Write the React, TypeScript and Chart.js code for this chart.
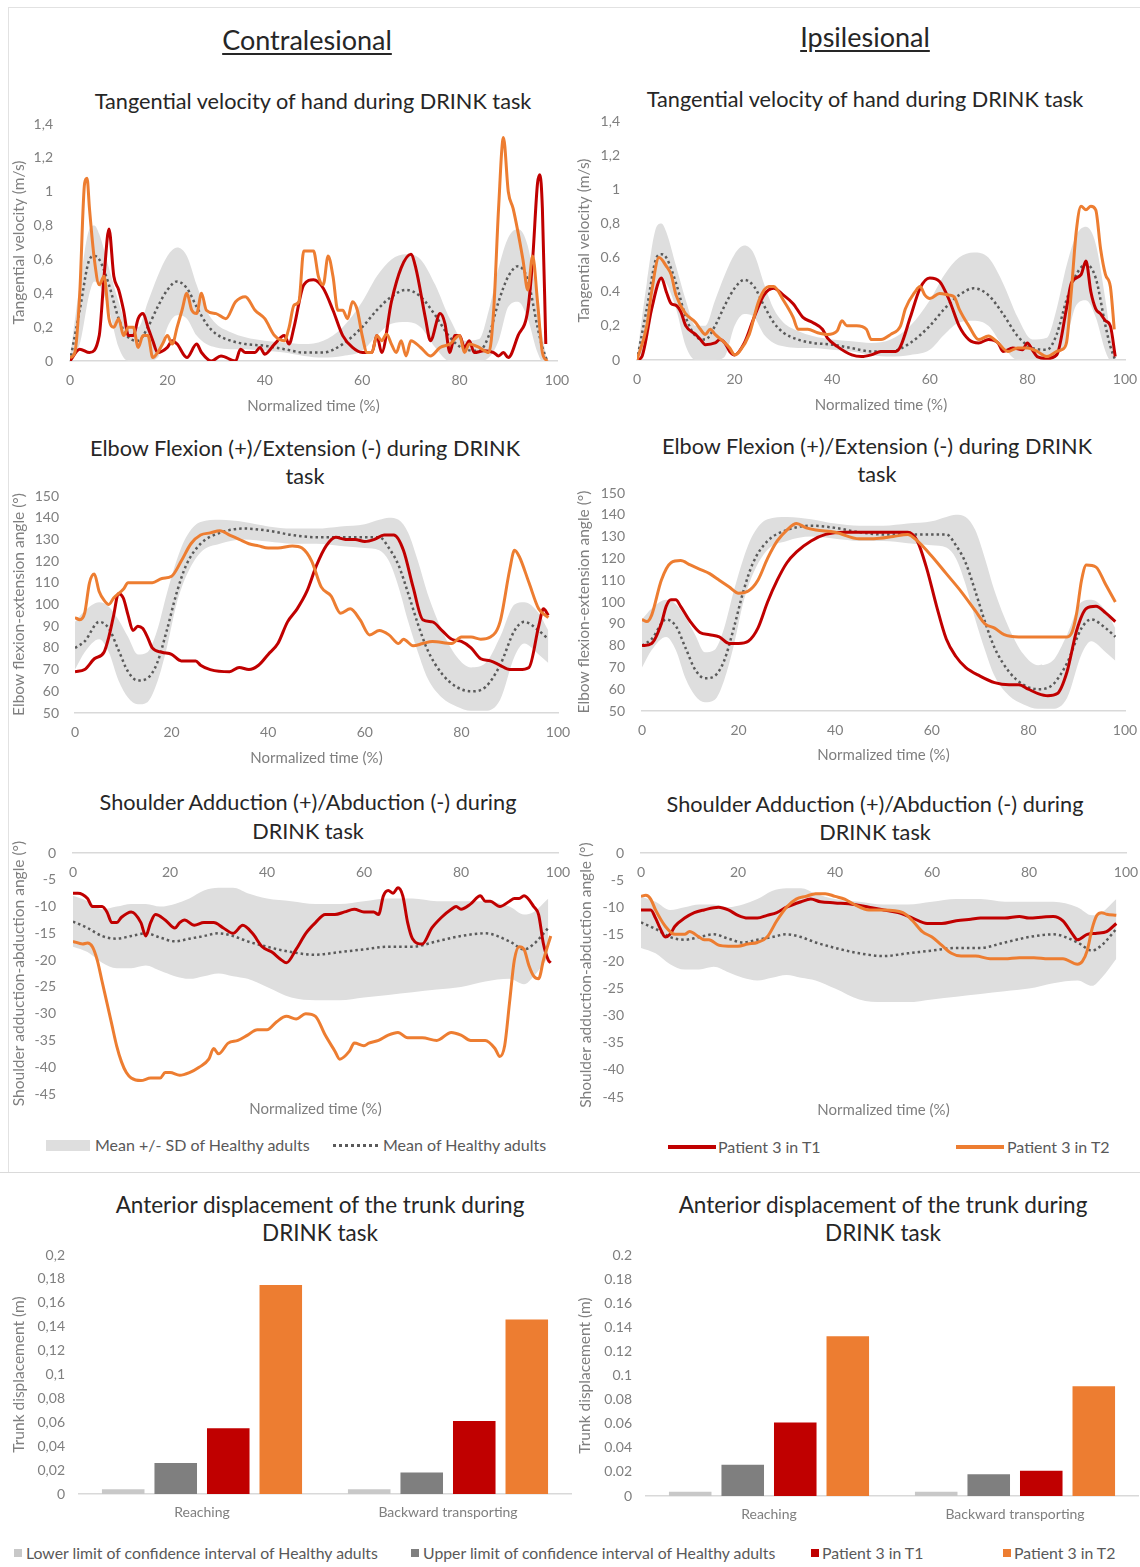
import React, { useEffect, useRef } from 'react';
import { Chart, registerables } from 'chart.js';
Chart.register(...registerables);

const FONT = 'Lato, "Open Sans", "DejaVu Sans", sans-serif';
const C_T1 = '#C00000';
const C_T2 = '#ED7D31';
const C_BAND = '#DEDEDE';
const C_MEAN = '#5A5A5A';
const C_TICK = '#7F7F7F';
const C_AXIS = '#D9D9D9';
const C_LOWER = '#C8C8C8';
const C_UPPER = '#7F7F7F';
const C_TEXT = '#262626';

// ---------- ticks ----------
const X_TICKS = [0, 20, 40, 60, 80, 100];
const VEL_TICKS = [0, 0.2, 0.4, 0.6, 0.8, 1, 1.2, 1.4];
const VEL_LABELS_C = ['0', '0,2', '0,4', '0,6', '0,8', '1', '1,2', '1,4'];
const VEL_LABELS_I = ['0', '0,2', '0.4', '0.6', '0,8', '1', '1,2', '1,4'];
const ELB_TICKS = [50, 60, 70, 80, 90, 100, 110, 120, 130, 140, 150];
const ELB_LABELS = ['50', '60', '70', '80', '90', '100', '110', '120', '130', '140', '150'];
const SHO_TICKS = [-45, -40, -35, -30, -25, -20, -15, -10, -5, 0];
const SHO_LABELS = ['-45', '-40', '-35', '-30', '-25', '-20', '-15', '-10', '-5', '0'];
const BAR_TICKS = [0, 0.02, 0.04, 0.06, 0.08, 0.1, 0.12, 0.14, 0.16, 0.18, 0.2];
const BAR_LABELS_C = ['0', '0,02', '0,04', '0,06', '0,08', '0,1', '0,12', '0,14', '0,16', '0,18', '0,2'];
const BAR_LABELS_I = ['0', '0.02', '0.04', '0.06', '0.08', '0.1', '0.12', '0.14', '0.16', '0.18', '0.2'];

// ---------- healthy adults: tangential velocity ----------
const HV_T = [0, 2, 4, 5, 6, 8, 10, 12, 14, 16, 18, 20, 22, 24, 26, 28, 30, 33, 36, 40, 44, 48, 52, 56, 60, 63, 66, 69, 72, 75, 78, 81, 84, 86, 88, 90, 92, 94, 96, 97, 98];
const HV_UP = [0.02, 0.45, 0.78, 0.8, 0.75, 0.55, 0.35, 0.2, 0.2, 0.35, 0.5, 0.62, 0.67, 0.62, 0.45, 0.3, 0.22, 0.17, 0.14, 0.12, 0.11, 0.1, 0.12, 0.2, 0.35, 0.5, 0.6, 0.63, 0.6, 0.45, 0.25, 0.12, 0.13, 0.3, 0.55, 0.73, 0.78, 0.68, 0.35, 0.15, 0];
const HV_LO = [0, 0.1, 0.4, 0.47, 0.45, 0.3, 0.08, 0, 0, 0, 0.02, 0.2, 0.27, 0.25, 0.15, 0.1, 0.08, 0.07, 0.07, 0.06, 0.05, 0.03, 0.02, 0.03, 0.06, 0.15, 0.22, 0.23, 0.2, 0.08, 0, 0, 0, 0.02, 0.12, 0.32, 0.35, 0.25, 0.05, 0, 0];
const HV_MEAN = [0, 0.3, 0.6, 0.62, 0.6, 0.45, 0.25, 0.14, 0.12, 0.2, 0.32, 0.42, 0.47, 0.43, 0.32, 0.22, 0.16, 0.12, 0.1, 0.09, 0.07, 0.05, 0.05, 0.1, 0.2, 0.3, 0.38, 0.42, 0.38, 0.27, 0.14, 0.07, 0.06, 0.15, 0.35, 0.5, 0.56, 0.48, 0.2, 0.08, 0];

// ---------- healthy adults: elbow ----------
const HE_T = [0, 2, 5, 7, 9, 11, 13, 15, 17, 19, 21, 23, 26, 30, 35, 40, 45, 50, 55, 60, 63, 65, 67, 69, 71, 73, 76, 79, 82, 85, 88, 91, 93, 96, 98];
const HE_UP = [92, 97, 101, 99, 93, 85, 77, 78, 88, 105, 120, 131, 138, 139, 138, 136, 135, 135, 136, 137, 139, 140, 139, 133, 120, 105, 88, 76, 71, 73, 85, 100, 101, 96, 88];
const HE_LO = [70, 78, 84, 78, 65, 57, 54, 55, 64, 80, 100, 113, 124, 128, 130, 129, 128, 128, 127, 126, 125, 120, 108, 92, 78, 66, 57, 53, 51, 51, 56, 76, 82, 77, 73];
const HE_MEAN = [80, 83, 92, 89, 79, 69, 65, 66, 73, 88, 105, 118, 128, 133, 135, 134, 132, 131, 131, 131, 131, 126, 118, 105, 91, 79, 68, 62, 60, 62, 72, 88, 92, 88, 84];

// ---------- healthy adults: shoulder ----------
const HS_T = [0, 3, 6, 9, 12, 15, 18, 21, 24, 27, 30, 33, 36, 40, 45, 50, 55, 60, 65, 70, 75, 80, 85, 90, 93, 95, 98];
const HS_UP = [-8, -9, -10.5, -10, -9.5, -9.5, -10, -9.5, -8.5, -7, -6.5, -6.5, -7.5, -8.5, -9, -9.5, -9.5, -9, -8.5, -8.5, -9, -9, -9, -10, -11.5, -11, -8.5];
const HS_LO = [-17.5, -18.5, -20.5, -21.5, -21.5, -21, -22, -23, -23.5, -23, -22.5, -23, -23.5, -25, -27, -27.5, -27.5, -27, -26.5, -26, -25.5, -25, -24, -23.5, -24.5, -23, -19.5];
const HS_MEAN = [-12.8, -14, -15.5, -16, -15.5, -15, -15.8, -16.5, -16, -15.5, -15, -15.5, -16.5, -17.5, -18.5, -19, -18.5, -18, -17.5, -17.5, -16.5, -15.5, -15, -16.5, -18, -17, -14];

// ---------- patient: velocity contralesional ----------
const VC_T1_X = [0, 2, 4, 6, 7, 8, 9, 10, 11, 12, 13, 14, 15, 16, 17, 18, 20, 21, 22, 24, 26, 27, 29, 31, 34, 35, 36, 38, 39, 40, 42, 44, 45, 46, 48, 50, 52, 54, 56, 58, 60, 62, 63, 64, 66, 68, 70, 71, 73, 74, 76, 77, 78, 79, 80, 81, 82, 83, 85, 87, 88, 89, 90, 92, 94, 95, 96, 96.5, 97, 97.7];
const VC_T1_Y = [0, 0.07, 0.05, 0.15, 0.5, 0.78, 0.5, 0.42, 0.3, 0.15, 0.15, 0.25, 0.28, 0.2, 0.12, 0.05, 0.08, 0.12, 0.1, 0.02, 0.1, 0.05, 0, 0.03, 0, 0.07, 0.05, 0.05, 0.08, 0.04, 0.1, 0.15, 0.1, 0.2, 0.45, 0.48, 0.43, 0.3, 0.15, 0.08, 0.05, 0.05, 0.15, 0.05, 0.35, 0.55, 0.63, 0.55, 0.25, 0.12, 0.28, 0.22, 0.05, 0.15, 0.15, 0.08, 0.12, 0.05, 0.06, 0.05, 0.03, 0.05, 0.02, 0.15, 0.3, 0.6, 1.05, 1.1, 0.9, 0.1];
const VC_T2_X = [0, 1, 2, 3, 3.5, 4, 5, 6, 7, 8, 9, 10, 11, 12, 13, 14, 15, 16, 17, 18, 19, 20, 21, 22, 23, 24, 25, 26, 27, 28, 30, 32, 34, 36, 38, 40, 42, 44, 45, 46, 47, 48, 50, 51, 52, 53, 54, 55, 56, 57, 58, 59, 60, 61, 62, 63, 64, 65, 66, 67, 68, 69, 70, 72, 74, 76, 78, 80, 81, 82, 84, 86, 87, 88, 89, 90, 91, 93, 94, 95, 96, 97, 98];
const VC_T2_Y = [0.02, 0.05, 0.4, 1.05, 1.08, 0.9, 0.6, 0.45, 0.5, 0.25, 0.2, 0.25, 0.15, 0.2, 0.2, 0.08, 0.15, 0.15, 0.02, 0.05, 0.1, 0.15, 0.1, 0.2, 0.3, 0.4, 0.3, 0.28, 0.4, 0.3, 0.28, 0.25, 0.35, 0.38, 0.3, 0.25, 0.15, 0.12, 0.2, 0.33, 0.35, 0.65, 0.65, 0.5, 0.45, 0.62, 0.5, 0.3, 0.3, 0.25, 0.35, 0.3, 0.15, 0.05, 0.05, 0.15, 0.12, 0.16, 0.1, 0.05, 0.12, 0.03, 0.12, 0.08, 0.03, 0.08, 0.1, 0.15, 0.05, 0.1, 0.08, 0.05, 0.3, 0.9, 1.32, 1.0, 0.9, 0.6, 0.42, 0.62, 0.35, 0.05, 0];

// ---------- patient: velocity ipsilesional ----------
const VI_T1_X = [0, 1, 3, 5, 6, 7, 8, 9, 10, 12, 13, 14, 16, 17, 18, 19, 20, 22, 24, 26, 28, 30, 32, 34, 36, 38, 39, 41, 44, 46, 48, 50, 53, 54, 56, 58, 60, 62, 64, 66, 68, 70, 72, 74, 75, 77, 79, 80, 81, 82, 84, 86, 88, 89, 91, 92, 93, 94, 95, 96, 97, 98];
const VI_T1_Y = [0, 0.02, 0.3, 0.48, 0.4, 0.33, 0.32, 0.28, 0.2, 0.15, 0.12, 0.09, 0.1, 0.12, 0.1, 0.05, 0.03, 0.1, 0.25, 0.38, 0.42, 0.38, 0.33, 0.25, 0.22, 0.18, 0.13, 0.08, 0.03, 0.02, 0.03, 0.05, 0.05, 0.08, 0.25, 0.42, 0.48, 0.46, 0.35, 0.2, 0.12, 0.1, 0.12, 0.1, 0.05, 0.07, 0.06, 0.1, 0.06, 0.02, 0.01, 0.03, 0.3, 0.45, 0.5, 0.58, 0.4, 0.3, 0.27, 0.23, 0.2, 0.02];
const VI_T2_X = [0, 2, 3, 4.5, 6, 7, 8, 10, 12, 13, 14, 15, 16, 18, 19, 20, 21, 23, 25, 27, 28, 30, 32, 33, 35, 37, 39, 41, 42, 43, 45, 47, 48, 50, 52, 54, 55, 57, 58, 59, 60, 62, 64, 65, 66, 68, 70, 72, 74, 76, 78, 80, 82, 84, 86, 87, 88, 89, 90, 91, 92, 93, 94, 95, 96, 97, 97.8];
const VI_T2_Y = [0, 0.2, 0.4, 0.6, 0.55, 0.5, 0.38, 0.27, 0.22, 0.18, 0.15, 0.18, 0.15, 0.1, 0.07, 0.03, 0.05, 0.15, 0.35, 0.43, 0.43, 0.35, 0.25, 0.18, 0.18, 0.16, 0.15, 0.17, 0.23, 0.2, 0.2, 0.18, 0.12, 0.12, 0.15, 0.2, 0.3, 0.4, 0.43, 0.38, 0.36, 0.39, 0.38, 0.37, 0.3, 0.2, 0.12, 0.14, 0.1, 0.05, 0.07, 0.07, 0.05, 0.02, 0.05, 0.06, 0.1, 0.4, 0.75, 0.9, 0.88, 0.9, 0.88, 0.65, 0.5, 0.43, 0.18];

// ---------- patient: elbow contralesional ----------
const EC_T1_X = [0, 2, 4, 6, 7, 8, 9, 10, 11, 12, 13, 14, 15, 16, 18, 20, 22, 25, 26, 28, 32, 34, 36, 38, 40, 42, 44, 46, 48, 50, 52, 54, 56, 58, 60, 62, 64, 66, 68, 70, 72, 74, 76, 78, 80, 82, 84, 86, 88, 90, 92, 94, 96, 97, 98];
const EC_T1_Y = [69, 70, 75, 78, 85, 95, 105, 103, 95, 88, 90, 89, 85, 80, 78, 77, 74, 74, 72, 70, 69, 71, 70, 72, 77, 82, 92, 98, 106, 118, 127, 131, 130, 130, 129, 130, 132, 132, 125, 108, 93, 92, 88, 84, 83, 80, 75, 74, 72, 70, 70, 71, 90, 98, 95];
const EC_T2_X = [0, 1, 2, 3, 4, 5, 6, 7, 8, 10, 11, 14, 16, 18, 20, 22, 24, 26, 28, 30, 32, 34, 36, 38, 40, 42, 45, 47, 49, 51, 53, 55, 57, 59, 61, 63, 65, 67, 68, 70, 72, 74, 78, 80, 82, 84, 86, 88, 90, 91, 92, 94, 96, 98];
const EC_T2_Y = [94, 93, 96, 110, 114, 106, 102, 100, 103, 107, 110, 110, 110, 112, 113, 120, 128, 132, 133, 134, 132, 130, 128, 127, 126, 126, 127, 126, 120, 108, 104, 96, 98, 93, 86, 88, 86, 82, 84, 81, 82, 83, 82, 85, 85, 84, 85, 92, 116, 125, 122, 110, 98, 94];

// ---------- patient: elbow ipsilesional ----------
const EI_T1_X = [0, 2, 4, 5, 6, 7, 8, 10, 12, 14, 16, 18, 20, 22, 24, 26, 28, 30, 32, 35, 38, 42, 46, 50, 55, 57, 59, 61, 63, 65, 67, 70, 73, 76, 78, 80, 82, 84, 86, 88, 90, 92, 94, 96, 98];
const EI_T1_Y = [80, 81, 90, 98, 101, 101, 98, 91, 86, 85, 84, 81, 81, 82, 88, 100, 110, 118, 123, 128, 131, 132, 132, 132, 132, 128, 115, 98, 83, 75, 70, 66, 63, 62, 62, 60, 58, 57, 58, 68, 87, 97, 98, 95, 91];
const EI_T2_X = [0, 1, 2, 4, 6, 8, 10, 12, 14, 16, 18, 20, 22, 24, 26, 28, 30, 32, 34, 36, 40, 45, 48, 52, 55, 57, 60, 63, 66, 69, 71, 73, 75, 78, 82, 86, 88, 89, 90, 91, 92, 94, 96, 98];
const EI_T2_Y = [92, 91, 94, 110, 118, 119, 117, 115, 113, 110, 107, 104, 105, 110, 120, 128, 133, 136, 134, 133, 132, 129, 129, 130, 131, 128, 121, 113, 105, 96, 90, 88, 85, 84, 84, 84, 84, 86, 95, 110, 117, 116, 108, 100];

// ---------- patient: shoulder contralesional ----------
const SC_T1_X = [0, 1, 3, 4, 6, 7, 8, 9, 10, 12, 14, 15, 16, 17, 19, 21, 22, 23, 25, 27, 29, 31, 33, 35, 37, 39, 41, 43, 44, 46, 48, 50, 52, 54, 56, 58, 60, 62, 63, 64, 65, 66, 67, 68, 69, 70, 72, 74, 76, 78, 79, 80, 82, 84, 85, 86, 88, 90, 91, 92, 93, 95, 96, 97, 98, 98.5];
const SC_T1_Y = [-7.5, -7.5, -8.5, -10, -10, -11, -13, -13, -12, -11, -13, -15.5, -13, -11.5, -12.5, -14, -13, -12.5, -13.5, -13, -13, -14, -15, -13.5, -15, -17.5, -18.5, -20, -20.5, -18, -15, -13, -11.5, -11.5, -11, -10.5, -11, -11, -11.5, -8, -7, -7.5, -6.5, -8, -13, -16, -17, -14, -12, -10.5, -10, -10.5, -9.5, -8, -9, -9, -10, -9, -8.5, -8.5, -8, -10, -11.5, -17, -20, -20.5];
const SC_T2_X = [0, 2, 3, 4, 5, 6, 7, 8, 9, 10, 11, 12, 14, 16, 18, 19, 20, 22, 24, 26, 28, 29, 30, 32, 34, 36, 38, 40, 42, 44, 46, 48, 50, 52, 54, 55, 57, 58, 60, 61, 63, 65, 67, 69, 72, 75, 78, 80, 82, 85, 87, 88, 89, 90, 91, 92, 93, 94, 95, 96, 97, 98.5];
const SC_T2_Y = [-16.5, -17, -16.8, -17.5, -20, -24, -28, -32, -36, -39, -41, -42, -42.5, -42, -42, -41, -41, -41.5, -41, -40, -38.5, -36.5, -37.5, -35.5, -35, -34, -33, -33, -31.5, -30.5, -31, -30, -30.5, -34, -37, -38.5, -37, -35.5, -36, -35.5, -35, -34, -33.5, -34.5, -34.5, -35, -33.5, -34, -35, -35, -36.5, -38, -36, -28, -20, -17.5, -18, -21, -23, -23.5, -20, -15.5];

// ---------- patient: shoulder ipsilesional ----------
const SI_T1_X = [0, 2, 3, 4, 5, 6, 7, 9, 11, 13, 16, 18, 20, 22, 24, 26, 28, 30, 33, 35, 37, 40, 44, 47, 50, 53, 56, 59, 62, 65, 68, 70, 75, 78, 80, 83, 85, 87, 89, 90, 92, 94, 96, 98];
const SI_T1_Y = [-10.5, -10.5, -12, -14, -15.5, -15, -13.5, -12, -11, -10.5, -10, -10.5, -11.5, -12, -12, -11.5, -11, -10, -9, -8.5, -9, -9.2, -9.5, -10, -10.5, -11, -12, -13, -13, -12.5, -12.2, -12, -12, -11.7, -12, -11.8, -11.7, -12.5, -15, -16, -15, -14.8, -14.5, -13];
const SI_T2_X = [0, 1, 2, 3, 5, 7, 9, 10, 12, 13, 14, 16, 18, 20, 22, 24, 26, 28, 30, 32, 34, 36, 38, 40, 42, 44, 47, 50, 54, 56, 58, 60, 62, 64, 66, 69, 72, 75, 78, 81, 84, 87, 90, 91, 92, 93, 94, 95, 96, 98];
const SI_T2_Y = [-8, -7.8, -8.5, -10.5, -13.5, -15, -15, -14.5, -15.5, -16, -16, -17, -17.2, -17.2, -16.8, -16.5, -15.5, -12.5, -10, -8.5, -8, -7.5, -7.5, -8, -8.5, -9.5, -10.5, -10.5, -11, -12.5, -14.5, -15.5, -17, -18.5, -19, -19, -19.5, -19.5, -19.3, -19.3, -19.5, -19.5, -20.5, -20, -18, -14, -11.5, -11, -11.3, -11.5];

// ---------- bar charts ----------
const BAR_CATS = ['Reaching', 'Backward transporting'];
const BAR_SERIES = ['Lower limit of confidence interval of Healthy adults', 'Upper limit of confidence interval of Healthy adults', 'Patient 3 in T1', 'Patient 3 in T2'];
const BC_LOWER = [0.004, 0.004];
const BC_UPPER = [0.026, 0.018];
const BC_T1 = [0.055, 0.061];
const BC_T2 = [0.175, 0.146];
const BI_LOWER = [0.0036, 0.0036];
const BI_UPPER = [0.026, 0.018];
const BI_T1 = [0.061, 0.021];
const BI_T2 = [0.1325, 0.091];

const zip = (xs: number[], ys: number[]) => xs.map((x, i) => ({ x, y: ys[i] }));

type Plot = { l: number; r: number; t: number; b: number };
const TOP_PAD = 28;
const RIGHT_PAD = 26;
const TICK_SIZE = 14;
const YTITLE_SIZE = 15.5;
const XTITLE_SIZE = 15;

type LineProps = {
  left: number; bottom: number; plot: Plot; xTitleY: number; yTitleX: number; yTickPad: number;
  yTitle: string; yTicks: number[]; yLabels: string[]; axisAtZero?: boolean;
  bT: number[]; bUp: number[]; bLo: number[]; bMean: number[];
  t1x: number[]; t1y: number[]; t2x: number[]; t2y: number[];
};

function LineChart(p: LineProps) {
  const ref = useRef<HTMLCanvasElement>(null);
  const rect = { x: p.left, y: p.plot.t - TOP_PAD, w: p.plot.r + RIGHT_PAD - p.left, h: p.bottom - (p.plot.t - TOP_PAD) };
  useEffect(() => {
    const { plot } = p;
    const yWidth = plot.l - rect.x;
    const xHeight = rect.y + rect.h - plot.b;
    const tf = { family: FONT, size: XTITLE_SIZE };
    const lh = XTITLE_SIZE * 1.2;
    const xTitle = {
      display: true, text: 'Normalized time (%)', color: C_TICK, font: tf,
      padding: { top: 0, bottom: Math.max(0, rect.y + rect.h - p.xTitleY - lh / 2) },
    };
    const scales: any = {
      x: {
        type: 'linear', min: 0, max: 100,
        position: p.axisAtZero ? { y: 0 } : 'bottom',
        afterBuildTicks: (s: any) => { s.ticks = X_TICKS.map((v) => ({ value: v })); },
        ticks: { color: C_TICK, font: { family: FONT, size: TICK_SIZE }, padding: 11, maxRotation: 0, autoSkip: false },
        grid: { display: false, drawTicks: false },
        border: { display: true, color: C_AXIS, width: 1.5 },
        afterFit: (s: any) => { s.height = p.axisAtZero ? 20 : xHeight; },
        title: p.axisAtZero ? { display: false } : xTitle,
      },
      y: {
        type: 'linear', min: p.yTicks[0], max: p.yTicks[p.yTicks.length - 1],
        afterBuildTicks: (s: any) => { s.ticks = p.yTicks.map((v) => ({ value: v })); },
        ticks: { color: C_TICK, font: { family: FONT, size: TICK_SIZE }, padding: p.yTickPad, callback: (_v: any, i: number) => p.yLabels[i] },
        grid: { display: false, drawTicks: false },
        border: { display: false },
        afterFit: (s: any) => { s.width = yWidth; },
        title: {
          display: true, text: p.yTitle, color: C_TICK, font: { family: FONT, size: YTITLE_SIZE },
          padding: { top: Math.max(0, p.yTitleX - rect.x - YTITLE_SIZE * 0.6), bottom: 0 },
        },
      },
    };
    if (p.axisAtZero) {
      scales.xt = {
        type: 'linear', axis: 'x', position: 'bottom', min: 0, max: 100,
        ticks: { display: false }, grid: { display: false, drawTicks: false }, border: { display: false },
        afterFit: (s: any) => { s.height = xHeight; },
        title: xTitle,
      };
    }
    const chart = new Chart(ref.current as HTMLCanvasElement, {
      type: 'line',
      data: {
        datasets: [
          { label: 'Patient 3 in T2', data: zip(p.t2x, p.t2y), borderColor: C_T2, borderWidth: 3, pointRadius: 0, fill: false, cubicInterpolationMode: 'monotone' },
          { label: 'Patient 3 in T1', data: zip(p.t1x, p.t1y), borderColor: C_T1, borderWidth: 3, pointRadius: 0, fill: false, cubicInterpolationMode: 'monotone' },
          { label: 'Mean of Healthy adults', data: zip(p.bT, p.bMean), borderColor: C_MEAN, borderWidth: 2.5, borderDash: [2.5, 3], pointRadius: 0, fill: false, cubicInterpolationMode: 'monotone' },
          { label: 'Mean +/- SD of Healthy adults', data: zip(p.bT, p.bUp), borderColor: 'rgba(0,0,0,0)', borderWidth: 0, pointRadius: 0, fill: '+1', backgroundColor: C_BAND, cubicInterpolationMode: 'monotone' },
          { label: 'lower', data: zip(p.bT, p.bLo), borderColor: 'rgba(0,0,0,0)', borderWidth: 0, pointRadius: 0, fill: false, cubicInterpolationMode: 'monotone' },
        ] as any,
      },
      options: {
        responsive: false, animation: false,
        layout: { padding: { top: TOP_PAD, right: RIGHT_PAD, left: 0, bottom: 0 } },
        plugins: { legend: { display: false }, tooltip: { enabled: false }, title: { display: false } },
        scales,
      } as any,
    });
    return () => chart.destroy();
  }, []);
  return <canvas ref={ref} width={rect.w} height={rect.h} style={{ position: 'absolute', left: rect.x, top: rect.y, width: rect.w, height: rect.h }} />;
}

type BarProps = {
  left: number; width: number; bottom: number; plot: Plot; yTitleX: number; yTickPad: number; yLabels: string[];
  lower: number[]; upper: number[]; t1: number[]; t2: number[];
};

function BarChart(p: BarProps) {
  const ref = useRef<HTMLCanvasElement>(null);
  const rect = { x: p.left, y: p.plot.t - TOP_PAD, w: p.width, h: p.bottom - (p.plot.t - TOP_PAD) };
  useEffect(() => {
    const { plot } = p;
    const padRight = rect.x + rect.w - plot.r;
    const yWidth = plot.l - rect.x;
    const xHeight = rect.y + rect.h - plot.b;
    const common = { categoryPercentage: 0.854, barPercentage: 0.81, borderWidth: 0 };
    const chart = new Chart(ref.current as HTMLCanvasElement, {
      type: 'bar',
      data: {
        labels: BAR_CATS,
        datasets: [
          { label: BAR_SERIES[0], data: p.lower, backgroundColor: C_LOWER, ...common },
          { label: BAR_SERIES[1], data: p.upper, backgroundColor: C_UPPER, ...common },
          { label: BAR_SERIES[2], data: p.t1, backgroundColor: C_T1, ...common },
          { label: BAR_SERIES[3], data: p.t2, backgroundColor: C_T2, ...common },
        ],
      },
      options: {
        responsive: false, animation: false,
        layout: { padding: { top: TOP_PAD, right: padRight, left: 0, bottom: 0 } },
        plugins: { legend: { display: false }, tooltip: { enabled: false } },
        scales: {
          x: {
            ticks: { color: C_TICK, font: { family: FONT, size: TICK_SIZE }, padding: 10, maxRotation: 0 },
            grid: { display: false, drawTicks: false },
            border: { display: true, color: C_AXIS, width: 1.5 },
            afterFit: (s: any) => { s.height = xHeight; },
          },
          y: {
            min: 0, max: 0.2,
            afterBuildTicks: (s: any) => { s.ticks = BAR_TICKS.map((v) => ({ value: v })); },
            ticks: { color: C_TICK, font: { family: FONT, size: TICK_SIZE }, padding: p.yTickPad, callback: (_v: any, i: number) => p.yLabels[i] },
            grid: { display: false, drawTicks: false },
            border: { display: false },
            afterFit: (s: any) => { s.width = yWidth; },
            title: {
              display: true, text: 'Trunk displacement (m)', color: C_TICK, font: { family: FONT, size: YTITLE_SIZE },
              padding: { top: Math.max(0, p.yTitleX - rect.x - YTITLE_SIZE * 0.6), bottom: 0 },
            },
          },
        },
      } as any,
    });
    return () => chart.destroy();
  }, []);
  return <canvas ref={ref} width={rect.w} height={rect.h} style={{ position: 'absolute', left: rect.x, top: rect.y, width: rect.w, height: rect.h }} />;
}

function CText(props: { cx: number; cy: number; size: number; lines: string[]; lh: number; color?: string; underline?: boolean }) {
  const { cx, cy, size, lines, lh, color, underline } = props;
  return (
    <div style={{
      position: 'absolute', left: cx - 350, width: 700, top: cy - (lh * lines.length) / 2,
      textAlign: 'center', fontFamily: FONT, fontSize: size, lineHeight: lh + 'px', color: color || C_TEXT, whiteSpace: 'nowrap',
    }}>
      {lines.map((l, i) => (
        <div key={i}><span style={{ textDecoration: underline ? 'underline' : 'none', textUnderlineOffset: 3 }}>{l}</span></div>
      ))}
    </div>
  );
}

function LText(props: { x: number; cy: number; size: number; text: string; color?: string }) {
  return (
    <div style={{ position: 'absolute', left: props.x, top: props.cy - 10, height: 20, lineHeight: '20px', fontFamily: FONT, fontSize: props.size, color: props.color || '#595959', whiteSpace: 'nowrap' }}>{props.text}</div>
  );
}

function Box(props: { x: number; y: number; w: number; h: number; bg?: string; style?: any }) {
  return <div style={{ position: 'absolute', left: props.x, top: props.y, width: props.w, height: props.h, background: props.bg, ...(props.style || {}) }} />;
}

export default function App() {
  const TITLE_V = ['Tangential velocity of hand during DRINK task'];
  const TITLE_E = ['Elbow Flexion (+)/Extension (-) during DRINK', 'task'];
  const TITLE_S = ['Shoulder Adduction (+)/Abduction (-) during', 'DRINK task'];
  const TITLE_B = ['Anterior displacement of the trunk during', 'DRINK task'];
  return (
    <div style={{ position: 'absolute', left: 0, top: 0, width: 1140, height: 1567, background: '#fff', overflow: 'hidden' }}>
      {/* frame lines */}
      <Box x={8} y={7} w={1132} h={1} bg="#E2E2E2" />
      <Box x={8} y={7} w={1} h={1165} bg="#E2E2E2" />
      <Box x={0} y={1172} w={1140} h={1} bg="#DADADA" />

      <CText cx={307} cy={40} size={27} lines={['Contralesional']} lh={32} underline />
      <CText cx={865} cy={37} size={27} lines={['Ipsilesional']} lh={32} underline />

      <CText cx={313} cy={101} size={21.7} lines={TITLE_V} lh={28} />
      <CText cx={865} cy={99} size={21.7} lines={TITLE_V} lh={28} />
      <CText cx={305} cy={462} size={21.7} lines={TITLE_E} lh={28} />
      <CText cx={877} cy={460} size={21.7} lines={TITLE_E} lh={28} />
      <CText cx={308} cy={817} size={21.7} lines={TITLE_S} lh={29} />
      <CText cx={875} cy={818} size={21.7} lines={TITLE_S} lh={28} />
      <CText cx={320} cy={1219} size={22.5} lines={TITLE_B} lh={28} />
      <CText cx={883} cy={1219} size={22.5} lines={TITLE_B} lh={28} />

      <LineChart left={10} bottom={420} plot={{ l: 70, r: 557, t: 124, b: 361 }} xTitleY={406} yTitleX={17} yTickPad={17}
        yTitle="Tangential velocity (m/s)" yTicks={VEL_TICKS} yLabels={VEL_LABELS_C}
        bT={HV_T} bUp={HV_UP} bLo={HV_LO} bMean={HV_MEAN} t1x={VC_T1_X} t1y={VC_T1_Y} t2x={VC_T2_X} t2y={VC_T2_Y} />
      <LineChart left={575} bottom={418} plot={{ l: 637, r: 1125, t: 121, b: 360 }} xTitleY={405} yTitleX={583} yTickPad={17}
        yTitle="Tangential velocity (m/s)" yTicks={VEL_TICKS} yLabels={VEL_LABELS_I}
        bT={HV_T} bUp={HV_UP} bLo={HV_LO} bMean={HV_MEAN} t1x={VI_T1_X} t1y={VI_T1_Y} t2x={VI_T2_X} t2y={VI_T2_Y} />
      <LineChart left={10} bottom={772} plot={{ l: 75, r: 558, t: 496, b: 713 }} xTitleY={758} yTitleX={16} yTickPad={16}
        yTitle="Elbow flexion-extension angle (°)" yTicks={ELB_TICKS} yLabels={ELB_LABELS}
        bT={HE_T} bUp={HE_UP} bLo={HE_LO} bMean={HE_MEAN} t1x={EC_T1_X} t1y={EC_T1_Y} t2x={EC_T2_X} t2y={EC_T2_Y} />
      <LineChart left={575} bottom={769} plot={{ l: 642, r: 1125, t: 493, b: 711 }} xTitleY={755} yTitleX={584} yTickPad={17}
        yTitle="Elbow flexion-extension angle (°)" yTicks={ELB_TICKS} yLabels={ELB_LABELS}
        bT={HE_T} bUp={HE_UP} bLo={HE_LO} bMean={HE_MEAN} t1x={EI_T1_X} t1y={EI_T1_Y} t2x={EI_T2_X} t2y={EI_T2_Y} />
      <LineChart left={10} bottom={1125} plot={{ l: 73, r: 558, t: 853, b: 1094 }} xTitleY={1109} yTitleX={17} yTickPad={17} axisAtZero
        yTitle="Shoulder adduction-abduction angle (°)" yTicks={SHO_TICKS} yLabels={SHO_LABELS}
        bT={HS_T} bUp={HS_UP} bLo={HS_LO} bMean={HS_MEAN} t1x={SC_T1_X} t1y={SC_T1_Y} t2x={SC_T2_X} t2y={SC_T2_Y} />
      <LineChart left={575} bottom={1125} plot={{ l: 641, r: 1126, t: 853, b: 1097 }} xTitleY={1110} yTitleX={586} yTickPad={17} axisAtZero
        yTitle="Shoulder adduction-abduction angle (°)" yTicks={SHO_TICKS} yLabels={SHO_LABELS}
        bT={HS_T} bUp={HS_UP} bLo={HS_LO} bMean={HS_MEAN} t1x={SI_T1_X} t1y={SI_T1_Y} t2x={SI_T2_X} t2y={SI_T2_Y} />

      {/* line legend */}
      <Box x={46} y={1140} w={44} h={11} bg={C_BAND} />
      <LText x={95} cy={1145} size={16} text="Mean +/- SD of Healthy adults" />
      <Box x={333} y={1144} w={45} h={0} style={{ borderTop: '3px dotted ' + C_MEAN }} />
      <LText x={383} cy={1145} size={16} text="Mean of Healthy adults" />
      <Box x={668} y={1145} w={48} h={4} bg={C_T1} />
      <LText x={718} cy={1147} size={16} text="Patient 3 in T1" />
      <Box x={956} y={1145} w={48} h={4} bg={C_T2} />
      <LText x={1007} cy={1147} size={16} text="Patient 3 in T2" />

      <BarChart left={10} width={562} bottom={1535} plot={{ l: 79, r: 571, t: 1255, b: 1494 }} yTitleX={17} yTickPad={14} yLabels={BAR_LABELS_C}
        lower={BC_LOWER} upper={BC_UPPER} t1={BC_T1} t2={BC_T2} />
      <BarChart left={575} width={565} bottom={1535} plot={{ l: 646, r: 1138, t: 1255, b: 1496 }} yTitleX={585} yTickPad={14} yLabels={BAR_LABELS_I}
        lower={BI_LOWER} upper={BI_UPPER} t1={BI_T1} t2={BI_T2} />

      {/* bar legend */}
      <Box x={14} y={1549} w={8} h={8} bg={C_LOWER} />
      <LText x={26} cy={1553} size={15.8} text={BAR_SERIES[0]} />
      <Box x={411} y={1549} w={8} h={8} bg={C_UPPER} />
      <LText x={423} cy={1553} size={15.8} text={BAR_SERIES[1]} />
      <Box x={811} y={1549} w={8} h={8} bg={C_T1} />
      <LText x={822} cy={1553} size={15.8} text={BAR_SERIES[2]} />
      <Box x={1003} y={1549} w={8} h={8} bg={C_T2} />
      <LText x={1014} cy={1553} size={15.8} text={BAR_SERIES[3]} />
    </div>
  );
}
